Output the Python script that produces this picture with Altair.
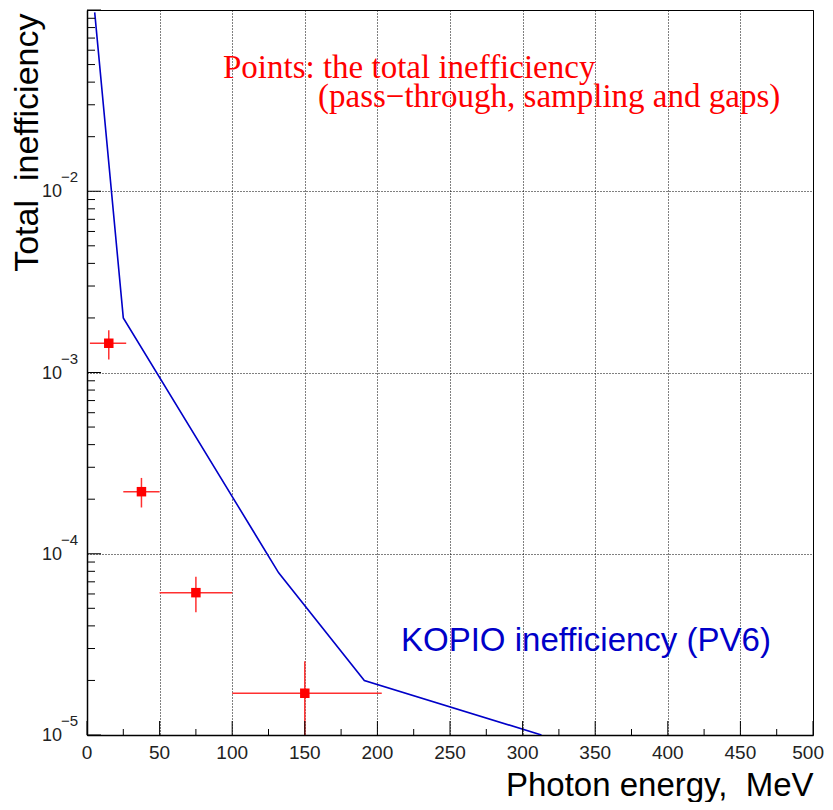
import altair as alt
import pandas as pd

# ---- data ----
energy = [15, 37.5, 75, 150]
ineff = [1.45e-3, 2.2e-4, 6.1e-5, 1.7e-5]
energy_lo = [2, 25, 50, 100]
energy_hi = [27, 50, 100, 203]
ineff_lo = [1.18e-3, 1.8e-4, 4.75e-5, 5e-6]
ineff_hi = [1.71e-3, 2.62e-4, 7.47e-5, 2.55e-5]

kopio_energy = [5.3, 25, 132, 191, 313]
kopio_ineff = [0.097, 2.0e-3, 7.85e-5, 2.0e-5, 1.0e-5]

x_tick_values = [0, 50, 100, 150, 200, 250, 300, 350, 400, 450, 500]
x_minor_values = [25, 75, 125, 175, 225, 275, 325, 375, 425, 475]
y_decades = [1e-5, 1e-4, 1e-3, 1e-2, 1e-1]
y_label_values = [1e-5, 1e-4, 1e-3, 1e-2]
y_label_exps = ["\u22125", "\u22124", "\u22123", "\u22122"]
y_minor_values = [m * 10.0 ** e for e in [-5, -4, -3, -2] for m in range(2, 10)]

note_lines = ["Points: the total inefficiency", "(pass\u2212through, sampling and gaps)"]
kopio_label = "KOPIO inefficiency (PV6)"

W, H = 726, 725

pts = pd.DataFrame({"e": energy, "v": ineff, "elo": energy_lo, "ehi": energy_hi,
                    "vlo": ineff_lo, "vhi": ineff_hi})
kopio = pd.DataFrame({"e": kopio_energy, "v": kopio_ineff})

xs = alt.Scale(domain=[0, 500], nice=False, zero=False)
ys = alt.Scale(type="log", domain=[1e-5, 1e-1], nice=False)

x_axis = alt.Axis(values=x_tick_values, grid=True, gridDash=[1, 2], gridColor="black",
                  gridWidth=1, ticks=False, tickSize=0, labels=False,
                  domainColor="black", domainWidth=1.5,
                  title="Photon energy,\u00a0 MeV", titleFontSize=33,
                  titleFont="Liberation Sans", titleFontWeight="normal",
                  titleColor="black", titleAnchor="end", titleAlign="right",
                  titleBaseline="alphabetic", titleX=W, titleY=60)
y_axis = alt.Axis(values=y_decades, grid=True, gridDash=[1, 2], gridColor="black",
                  gridWidth=1, ticks=False, tickSize=0, labels=False,
                  domainColor="black", domainWidth=1.5,
                  title="Total\u00a0 inefficiency", titleFontSize=34,
                  titleFont="Liberation Sans", titleFontWeight="normal",
                  titleColor="black", titleAngle=270, titleAlign="right",
                  titleBaseline="alphabetic", titleX=-50, titleY=3)


def X(field):
    return alt.X(field, scale=xs, axis=x_axis)


def Y(field):
    return alt.Y(field, scale=ys, axis=y_axis)


line = alt.Chart(kopio).mark_line(color="#0000c8", strokeWidth=1.6, clip=True).encode(
    x=X("e:Q"), y=Y("v:Q"),
)

err_color = "#ff3030"
xerr = alt.Chart(pts).mark_rule(color=err_color, strokeWidth=1.5, clip=True).encode(
    x=X("elo:Q"), x2="ehi:Q", y=Y("v:Q"),
)
yerr = alt.Chart(pts).mark_rule(color=err_color, strokeWidth=1.5, clip=True).encode(
    x=X("e:Q"), y=Y("vlo:Q"), y2="vhi:Q",
)
squares = alt.Chart(pts).mark_square(size=90, color="red", opacity=1).encode(
    x=X("e:Q"), y=Y("v:Q"),
)

# inward ticks (ROOT style)
ymaj = alt.Chart(pd.DataFrame({"v": y_decades})).mark_rule(color="black", strokeWidth=1).encode(
    y=Y("v:Q"), x=alt.value(0), x2=alt.value(14))
ymin = alt.Chart(pd.DataFrame({"v": y_minor_values})).mark_rule(color="black", strokeWidth=1).encode(
    y=Y("v:Q"), x=alt.value(0), x2=alt.value(8))
xmaj = alt.Chart(pd.DataFrame({"e": x_tick_values})).mark_rule(color="black", strokeWidth=1).encode(
    x=X("e:Q"), y=alt.value(H), y2=alt.value(H - 14))
xmin = alt.Chart(pd.DataFrame({"e": x_minor_values})).mark_rule(color="black", strokeWidth=1).encode(
    x=X("e:Q"), y=alt.value(H), y2=alt.value(H - 6))

# x tick labels (last one kept inside the page)
xlab_df = pd.DataFrame({"e": x_tick_values[:-1], "t": [str(v) for v in x_tick_values[:-1]]})
xlab = alt.Chart(xlab_df).mark_text(align="center", baseline="alphabetic", fontSize=19,
                                    font="Liberation Sans", color="#222").encode(
    x=X("e:Q"), y=alt.value(H + 24), text="t:N")
xlab_last = alt.Chart(pd.DataFrame({"e": x_tick_values[-1:], "t": [str(x_tick_values[-1])]})).mark_text(
    align="right", baseline="alphabetic", fontSize=19, dx=11,
    font="Liberation Sans", color="#222").encode(
    x=X("e:Q"), y=alt.value(H + 24), text="t:N")

# y tick labels 10^n
ylab_df = pd.DataFrame({"v": y_label_values, "exp": y_label_exps})
ylab_base = alt.Chart(ylab_df).mark_text(align="right", baseline="alphabetic", dy=6,
                                         fontSize=18, font="Liberation Sans", color="#222").encode(
    y=Y("v:Q"), x=alt.value(-25), text=alt.value("10"))
ylab_exp = alt.Chart(ylab_df).mark_text(align="left", baseline="alphabetic", dy=-9,
                                        fontSize=15, font="Liberation Sans", color="#222").encode(
    y=Y("v:Q"), x=alt.value(-26), text="exp:N")

note1 = alt.Chart(pd.DataFrame({"t": [note_lines[0]]})).mark_text(
    align="left", baseline="alphabetic", fontSize=33, font="Liberation Serif", color="red").encode(
    x=alt.value(136), y=alt.value(68), text="t:N")
note2 = alt.Chart(pd.DataFrame({"t": [note_lines[1]]})).mark_text(
    align="left", baseline="alphabetic", fontSize=33, font="Liberation Serif", color="red").encode(
    x=alt.value(231), y=alt.value(97), text="t:N")
klab = alt.Chart(pd.DataFrame({"t": [kopio_label]})).mark_text(
    align="left", baseline="alphabetic", fontSize=33, font="Liberation Sans", color="#0000c8").encode(
    x=alt.value(314), y=alt.value(641), text="t:N")

chart = alt.layer(
    line, xerr, yerr, squares, ymaj, ymin, xmaj, xmin, xlab, xlab_last,
    ylab_base, ylab_exp, note1, note2, klab
).properties(
    width=W, height=H,
    autosize=alt.AutoSizeParams(type="none"),
    padding={"left": 79, "top": 2, "right": 12, "bottom": 67},
    background="white",
).configure_view(stroke="black", strokeWidth=1)

chart.save("out.html", embed_options={"renderer": "svg", "actions": False})
